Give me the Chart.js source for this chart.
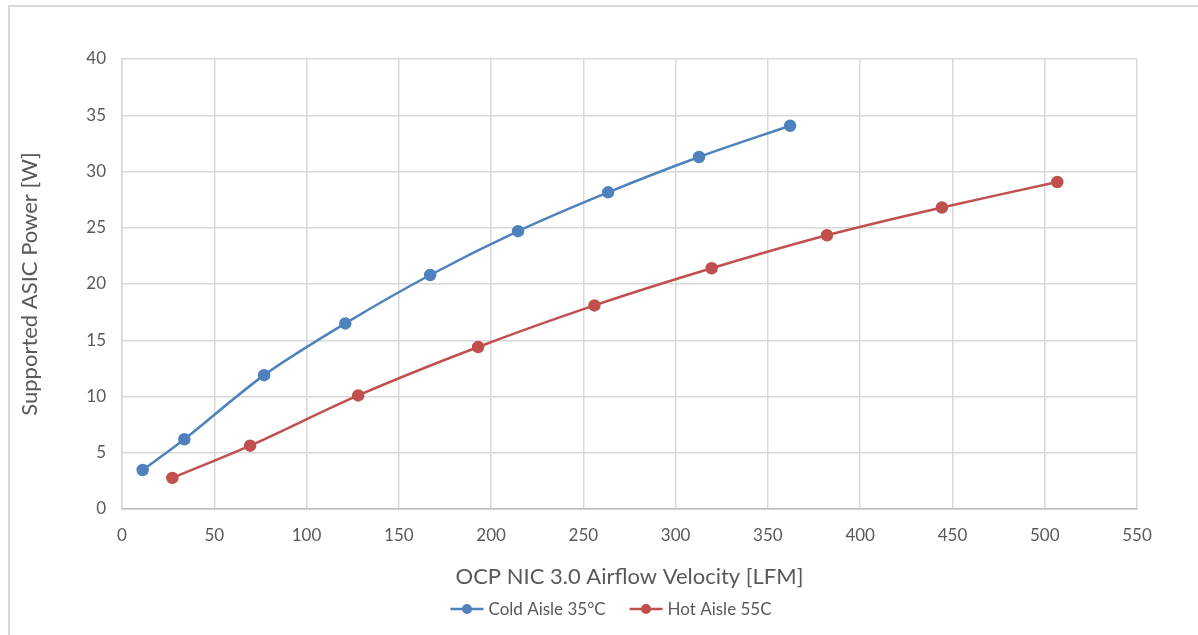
<!DOCTYPE html>
<html>
<head>
<meta charset="utf-8">
<script src="https://cdn.jsdelivr.net/npm/chart.js@4"></script>
<style>
  html, body { margin: 0; padding: 0; background: #fff; }
  #wrap { position: relative; width: 1198px; height: 635px; }
  #frame { position: absolute; left: 8px; top: 5px; right: 0; bottom: 0;
           border-left: 2px solid #d9d9d9; border-top: 2px solid #d9d9d9; }
  canvas { position: absolute; left: 0; top: 0; }
</style>
</head>
<body>
<div id="wrap">
  <div id="frame"></div>
  <canvas id="chart" width="1198" height="635"></canvas>
</div>
<script>
// values
const coldX = [11.2, 33.8, 77, 121, 167, 214.6, 263.4, 312.7, 362];
const coldY = [3.47, 6.2, 11.9, 16.5, 20.8, 24.7, 28.15, 31.29, 34.07];
const hotX = [27.3, 69.4, 128, 193, 256, 319.5, 382, 444.3, 506.8];
const hotY = [2.76, 5.63, 10.1, 14.4, 18.1, 21.4, 24.33, 26.8, 29.07];
const seriesNames = ['Cold Aisle 35°C', 'Hot Aisle 55C'];
const seriesColors = ['#4f81bd', '#c0504d'];

const FONT = 'Lato, Calibri, "Open Sans", sans-serif';
const textColor = '#595959';

function pts(xs, ys) {
  return xs.map((x, i) => ({ x: x, y: ys[i] }));
}

// legend drawn under the axis title: short line with a dot, then the name
const lineLegend = {
  id: 'lineLegend',
  afterDraw(chart) {
    const ctx = chart.ctx;
    ctx.save();
    ctx.font = '17px ' + FONT;
    ctx.textBaseline = 'middle';
    const y = 609, lineW = 33, gap = 5, between = 24;
    const widths = seriesNames.map(n => lineW + gap + ctx.measureText(n).width);
    const total = widths.reduce((a, b) => a + b, 0) + between;
    let x = 611 - total / 2;
    seriesNames.forEach((name, i) => {
      ctx.strokeStyle = seriesColors[i];
      ctx.lineWidth = 2.5;
      ctx.beginPath();
      ctx.moveTo(x, y);
      ctx.lineTo(x + lineW, y);
      ctx.stroke();
      ctx.fillStyle = seriesColors[i];
      ctx.beginPath();
      ctx.arc(x + lineW / 2, y, 5, 0, Math.PI * 2);
      ctx.fill();
      ctx.fillStyle = textColor;
      ctx.fillText(name, x + lineW + gap, y + 1);
      x += widths[i] + between;
    });
    ctx.restore();
  }
};

new Chart(document.getElementById('chart'), {
  type: 'line',
  data: {
    datasets: [
      {
        label: seriesNames[0],
        data: pts(coldX, coldY),
        borderColor: seriesColors[0],
        backgroundColor: seriesColors[0],
        borderWidth: 2.5,
        pointRadius: 5,
        pointHoverRadius: 5,
        tension: 0.3
      },
      {
        label: seriesNames[1],
        data: pts(hotX, hotY),
        borderColor: seriesColors[1],
        backgroundColor: seriesColors[1],
        borderWidth: 2.5,
        pointRadius: 5,
        pointHoverRadius: 5,
        tension: 0.3
      }
    ]
  },
  options: {
    responsive: false,
    animation: false,
    layout: { padding: { left: 0, top: 59, right: 61, bottom: 0 } },
    plugins: {
      legend: { display: false },
      tooltip: { enabled: false }
    },
    scales: {
      x: {
        type: 'linear',
        min: 0,
        max: 550,
        afterFit(scale) { scale.height = 126; },
        ticks: { stepSize: 50, color: textColor, font: { family: FONT, size: 17 }, padding: 16, maxRotation: 0 },
        grid: { color: '#d9d9d9', lineWidth: 1.5, drawTicks: false },
        border: { color: '#bfbfbf', width: 1.5 },
        title: {
          display: true,
          text: 'OCP NIC 3.0 Airflow Velocity [LFM]',
          color: textColor,
          font: { family: FONT, size: 22 },
          padding: { top: 0, bottom: 45 }
        }
      },
      y: {
        min: 0,
        max: 40,
        afterFit(scale) { scale.width = 122; },
        ticks: { stepSize: 5, color: textColor, font: { family: FONT, size: 17 }, padding: 16 },
        grid: { color: '#d9d9d9', lineWidth: 1.5, drawTicks: false },
        border: { color: '#d9d9d9', width: 1.5 },
        title: {
          display: true,
          text: 'Supported ASIC Power [W]',
          color: textColor,
          font: { family: FONT, size: 22 },
          padding: { top: 17, bottom: 0 }
        }
      }
    }
  },
  plugins: [lineLegend]
});
</script>
</body>
</html>
